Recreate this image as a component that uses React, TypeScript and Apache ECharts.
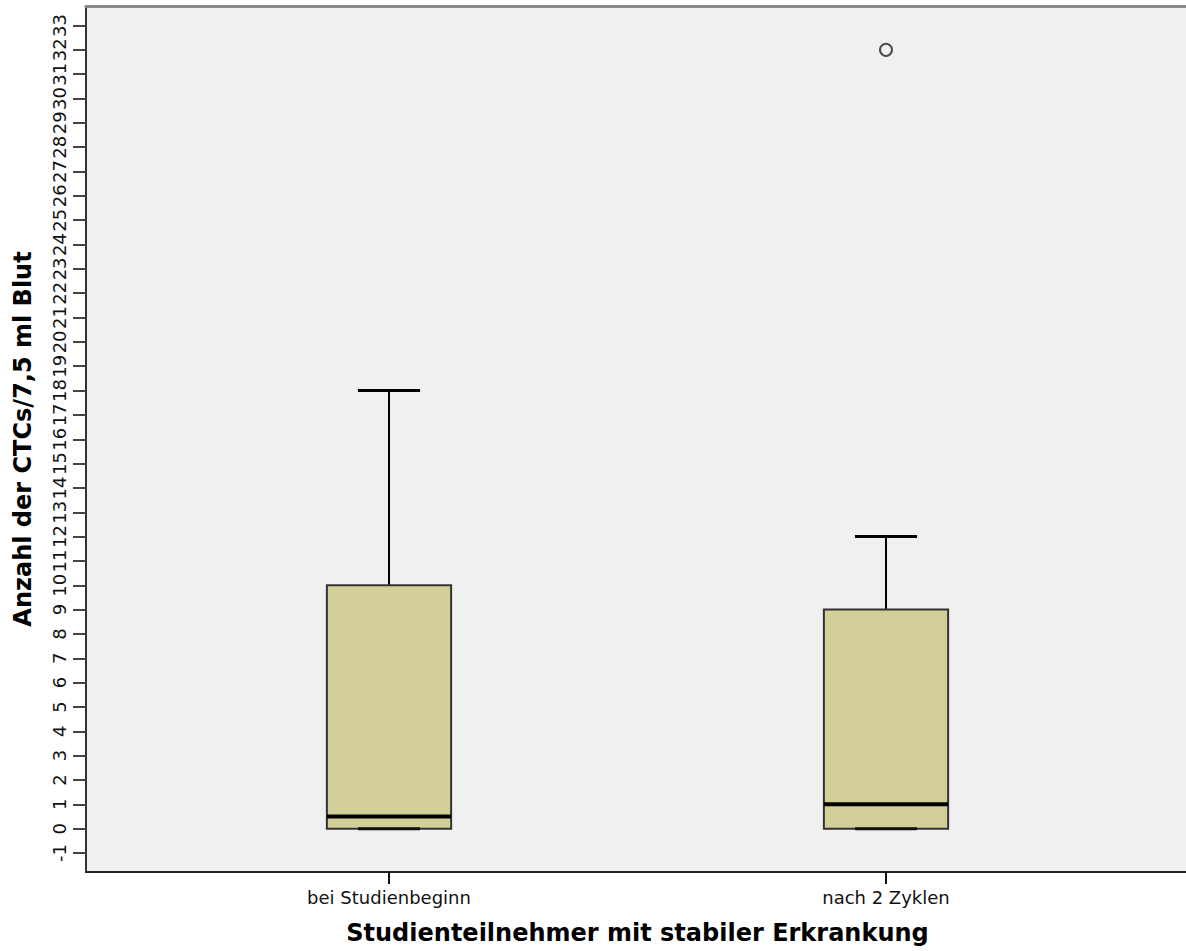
import React, { useEffect, useRef } from "react";
import * as echarts from "echarts";

const categories = ["bei Studienbeginn", "nach 2 Zyklen"];
const minValues = [0, 0];
const q1Values = [0, 0];
const medianValues = [0.5, 1];
const q3Values = [10, 9];
const maxValues = [18, 12];
const outlierCategories = ["nach 2 Zyklen"];
const outlierValues = [32];

const yTitle = "Anzahl der CTCs/7,5 ml Blut";
const xTitle = "Studienteilnehmer mit stabiler Erkrankung";

export default function App() {
  const ref = useRef<HTMLDivElement>(null);
  useEffect(() => {
    if (!ref.current) return;
    const chart = echarts.init(ref.current, undefined, { renderer: "svg" });
    const boxData = categories.map((c, i) => [
      i,
      minValues[i],
      q1Values[i],
      medianValues[i],
      q3Values[i],
      maxValues[i],
    ]);
    const outlierData = outlierCategories.map((c, i) => [
      categories.indexOf(c),
      outlierValues[i],
    ]);
    const font = "DejaVu Sans";
    chart.setOption({
      animation: false,
      grid: [
        {
          left: 86,
          right: -3,
          top: 6,
          bottom: 79,
          show: true,
          backgroundColor: "#f0f0f0",
          borderWidth: 0,
        },
        { left: 140.5, right: 51.5, top: 25.5, bottom: 98 },
      ],
      xAxis: [
        {
          gridIndex: 0,
          type: "value",
          min: 0,
          max: 1,
          position: "bottom",
          axisLine: { show: true, onZero: false, lineStyle: { color: "#222", width: 2 } },
          axisTick: { show: false },
          axisLabel: { show: false },
          splitLine: { show: false },
        },
        {
          gridIndex: 0,
          type: "value",
          min: 0,
          max: 1,
          position: "top",
          axisLine: { show: true, onZero: false, lineStyle: { color: "#8a8a8a", width: 3 } },
          axisTick: { show: false },
          axisLabel: { show: false },
          splitLine: { show: false },
        },
        {
          gridIndex: 1,
          type: "category",
          data: categories,
          position: "bottom",
          offset: 19,
          axisLine: { show: false, onZero: false },
          axisTick: {
            show: true,
            alignWithLabel: true,
            length: 12,
            lineStyle: { color: "#111", width: 2 },
          },
          axisLabel: {
            fontFamily: font,
            fontSize: 18,
            color: "#111",
            margin: 16,
          },
          name: xTitle,
          nameLocation: "middle",
          nameGap: 49,
          nameTextStyle: {
            fontFamily: font,
            fontSize: 24,
            fontWeight: "bold",
            color: "#000",
          },
          splitLine: { show: false },
        },
      ],
      yAxis: [
        {
          gridIndex: 0,
          type: "value",
          min: 0,
          max: 1,
          axisLine: { show: true, onZero: false, lineStyle: { color: "#333", width: 2 } },
          axisTick: { show: false },
          axisLabel: { show: false },
          splitLine: { show: false },
          name: yTitle,
          nameLocation: "middle",
          nameGap: 51,
          nameTextStyle: {
            fontFamily: font,
            fontSize: 24,
            fontWeight: "bold",
            color: "#000",
          },
        },
        {
          gridIndex: 1,
          type: "value",
          min: -1,
          max: 33,
          interval: 1,
          offset: 54.5,
          axisLine: { show: false, onZero: false },
          axisTick: {
            show: true,
            length: 13,
            lineStyle: { color: "#444", width: 2 },
          },
          axisLabel: {
            rotate: 90,
            fontFamily: font,
            fontSize: 18,
            color: "#111",
            margin: 18,
          },
          splitLine: { show: false },
        },
      ],
      series: [
        {
          type: "custom",
          xAxisIndex: 2,
          yAxisIndex: 1,
          data: boxData,
          renderItem: (params: any, api: any) => {
            const idx = api.value(0);
            const band = api.size([1, 0])[0];
            const w = band * 0.25;
            const pMin = api.coord([idx, api.value(1)]);
            const pQ1 = api.coord([idx, api.value(2)]);
            const pMed = api.coord([idx, api.value(3)]);
            const pQ3 = api.coord([idx, api.value(4)]);
            const pMax = api.coord([idx, api.value(5)]);
            const cx = pMed[0];
            const lineStyle = { stroke: "#000", lineWidth: 2 };
            return {
              type: "group",
              children: [
                {
                  type: "line",
                  shape: { x1: cx, y1: pQ3[1], x2: cx, y2: pMax[1] },
                  style: lineStyle,
                },
                {
                  type: "line",
                  shape: { x1: cx, y1: pQ1[1], x2: cx, y2: pMin[1] },
                  style: lineStyle,
                },
                {
                  type: "line",
                  shape: { x1: cx - w / 4, y1: pMax[1], x2: cx + w / 4, y2: pMax[1] },
                  style: { stroke: "#000", lineWidth: 3 },
                },
                {
                  type: "rect",
                  shape: { x: cx - w / 2, y: pQ3[1], width: w, height: pQ1[1] - pQ3[1] },
                  style: { fill: "#d3cf99", stroke: "#333", lineWidth: 2 },
                },
                {
                  type: "line",
                  shape: { x1: cx - w / 4, y1: pMin[1], x2: cx + w / 4, y2: pMin[1] },
                  style: { stroke: "#111", lineWidth: 3 },
                },
                {
                  type: "line",
                  shape: { x1: cx - w / 2, y1: pMed[1], x2: cx + w / 2, y2: pMed[1] },
                  style: { stroke: "#000", lineWidth: 4 },
                },
              ],
            };
          },
        },
        {
          type: "scatter",
          xAxisIndex: 2,
          yAxisIndex: 1,
          data: outlierData,
          symbol: "circle",
          symbolSize: 12,
          itemStyle: { color: "#f0f0f0", borderColor: "#222", borderWidth: 2 },
        },
      ],
    });
    return () => chart.dispose();
  }, []);
  return (
    <div
      ref={ref}
      style={{ position: "absolute", left: 0, top: 0, width: 1186, height: 951 }}
    />
  );
}
